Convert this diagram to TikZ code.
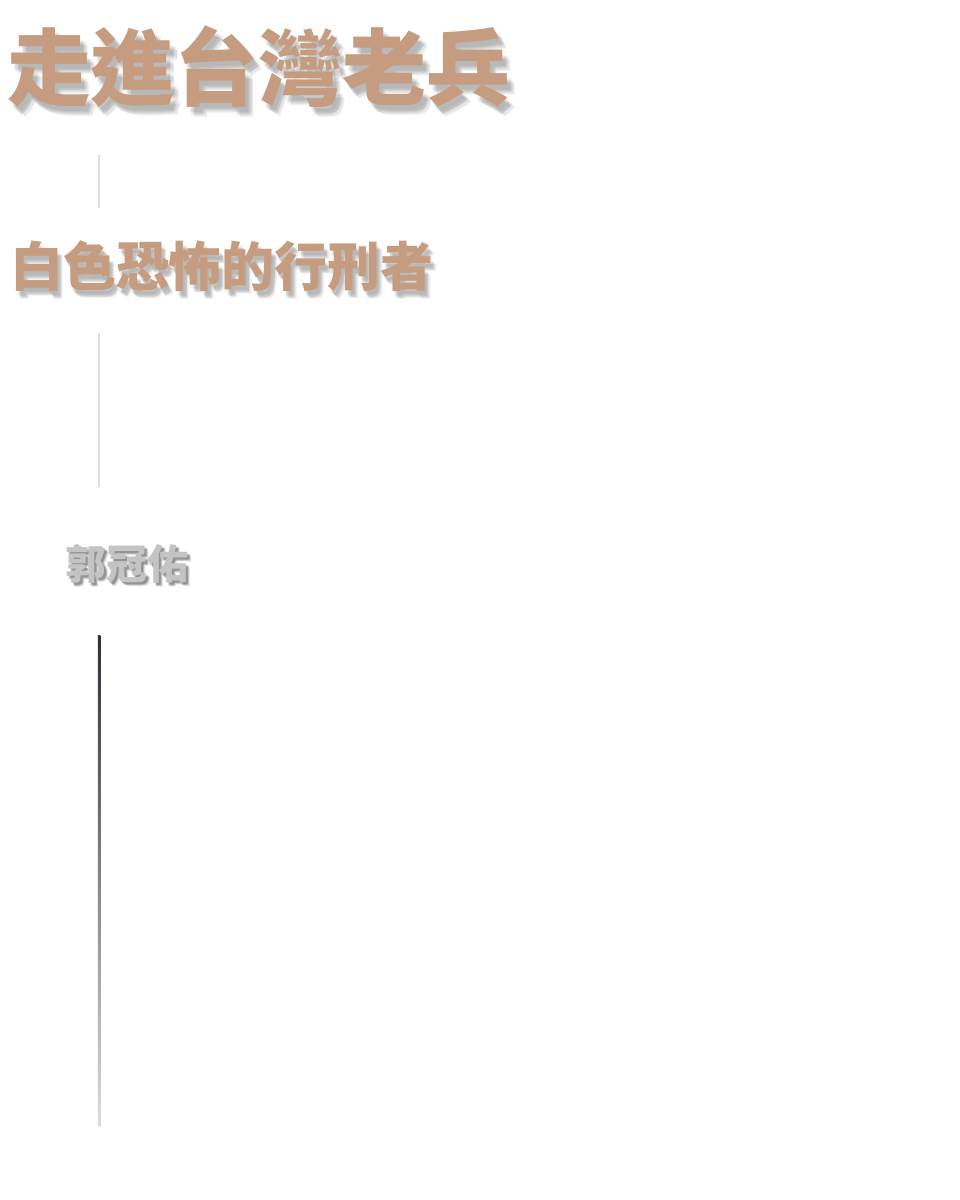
\documentclass[tikz,border=0pt]{standalone}
\usepackage{fontspec}
\newfontfamily\cjk{Noto Sans CJK TC}
\definecolor{tan}{HTML}{C59C7F}
\definecolor{authorgrey}{HTML}{C4C4C4}
\definecolor{faint}{HTML}{DDDDDD}
\definecolor{linetop}{HTML}{2F2F38}
\definecolor{linebot}{HTML}{DCDCDC}
\tikzset{
  txt/.style={anchor=base west, inner sep=0pt, outer sep=0pt},
  shadowtxt/.style={txt, text=black, text opacity=0.05},
  rule/.style={draw=faint, line width=1.5pt},
  titlefont/.style={font=\cjk\bfseries\fontsize{84}{84}\selectfont},
  subfont/.style={font=\cjk\bfseries\fontsize{53}{53}\selectfont},
  authfont/.style={font=\cjk\bfseries\fontsize{41}{41}\selectfont},
}
\begin{document}
\begin{tikzpicture}[x=1pt,y=-1pt]
\useasboundingbox[fill=white] (0,0) rectangle (960,1200);
% title soft shadow
\foreach \dx/\dy in {3/5,5/7,7/9,4/8,6/6,8/10}{
  \node[shadowtxt, titlefont] at (7+\dx,99+\dy) {走進台灣老兵};
}
\node[txt, text=tan, titlefont] (title) at (7,99) {走進台灣老兵};
% rule 1
\coordinate (r1a) at (99,155);
\coordinate (r1b) at (99,208);
\draw[rule] (r1a) -- (r1b);
% subtitle soft shadow
\foreach \dx/\dy in {2/4,3/5,5/7,4/6,6/8,3/7}{
  \node[shadowtxt, subfont] at (10+\dx,286+\dy) {白色恐怖的行刑者};
}
\node[txt, text=tan, subfont] (subtitle) at (10,286) {白色恐怖的行刑者};
% rule 2
\coordinate (r2a) at (99,333);
\coordinate (r2b) at (99,487);
\draw[rule] (r2a) -- (r2b);
% author shadow
\foreach \dx/\dy in {2/2,3/3,4/4,3/2,2/3}{
  \node[txt, text=black, text opacity=0.1, authfont] at (65+\dx,579+\dy) {郭冠佑};
}
\node[txt, text=authorgrey, authfont] (author) at (65,579) {郭冠佑};
% gradient rule
\coordinate (r3a) at (97.8,635);
\coordinate (r3b) at (100.3,1126);
\shade[top color=linetop, bottom color=linebot] (r3a) rectangle (r3b);
\end{tikzpicture}
\end{document}
